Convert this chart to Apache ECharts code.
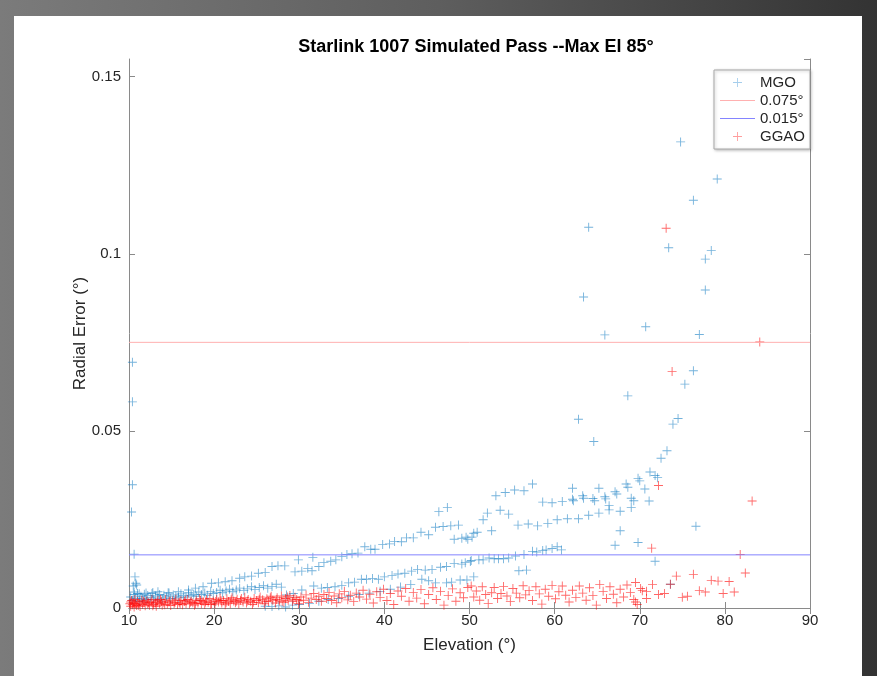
<!DOCTYPE html>
<html>
<head>
<meta charset="utf-8">
<title>Starlink 1007 Simulated Pass</title>
<script src="https://cdn.jsdelivr.net/npm/echarts@6/dist/echarts.min.js"></script>
<style>
    html, body { margin: 0; padding: 0; }
    body {
        width: 877px; height: 676px; overflow: hidden;
        background: linear-gradient(90deg, #7b7b7b 0%, #5e5e5e 50%, #333 100%);
        position: relative;
    }
    #chart {
        position: absolute; left: 14px; top: 16px;
        width: 848px; height: 660px; background: #fff;
    }
</style>
</head>
<body>
<div id="chart"></div>
<script>
// elevation (deg), radial error (deg)
var mgo = [
    // near-vertical column at the start of the pass
    [10.4,0.0694],[10.4,0.0582],[10.4,0.0348],[10.3,0.0271],[10.6,0.0152],
    [10.7,0.0088],[10.8,0.0070],[10.9,0.0065],[10.5,0.0062],
    // upper curve
    [10.6,0.0045],[11.2,0.0040],[12.0,0.0042],[12.8,0.0044],[13.4,0.0046],[14.6,0.0043],
    [15.8,0.0046],[17.0,0.0051],[17.8,0.0056],[18.7,0.0060],[19.7,0.0070],[20.5,0.0071],
    [21.3,0.0074],[22.1,0.0077],[23.0,0.0084],[23.6,0.0088],[24.4,0.0090],[25.2,0.0098],
    [26.0,0.0100],[26.8,0.0117],[27.5,0.0119],[28.3,0.0119],[29.9,0.0136],[31.6,0.0143],
    [29.5,0.0102],[30.3,0.0104],[31.0,0.0112],[31.5,0.0105],[32.3,0.0117],[32.9,0.0128],
    [33.7,0.0132],[34.3,0.0136],[35.0,0.0145],[35.6,0.0151],[36.2,0.0153],[36.9,0.0155],
    [37.7,0.0173],[38.4,0.0166],[38.9,0.0166],[39.8,0.0179],[40.6,0.0181],[41.2,0.0188],
    [42.0,0.0187],[42.6,0.0198],[43.4,0.0198],[44.3,0.0214],[45.2,0.0207],[46.0,0.0228],
    [46.9,0.0230],[47.8,0.0232],[48.7,0.0234],[48.2,0.0194],[49.1,0.0197],[49.8,0.0194],
    [50.3,0.0200],[49.6,0.0200],[50.5,0.0211],[50.9,0.0214],[52.6,0.0218],[51.6,0.0249],
    [52.1,0.0268],[53.6,0.0276],[54.6,0.0265],[46.4,0.0272],[47.4,0.0284],
    [53.1,0.0317],[54.2,0.0326],[55.3,0.0333],[56.4,0.0331],[57.4,0.0350],
    // middle curve
    [28.5,0.0037],[29.3,0.0041],[30.3,0.0051],[31.7,0.0062],[32.6,0.0056],[33.3,0.0058],
    [34.2,0.0060],[35.0,0.0064],[35.8,0.0071],[36.5,0.0073],[37.3,0.0081],[37.9,0.0081],
    [38.6,0.0083],[39.3,0.0081],[40.0,0.0088],[40.9,0.0092],[41.6,0.0096],[42.4,0.0098],
    [43.2,0.0104],[43.9,0.0109],[44.8,0.0107],[45.6,0.0109],[46.6,0.0115],[47.3,0.0117],
    [48.2,0.0126],[49.1,0.0124],[50.1,0.0131],[49.5,0.0128],[50.2,0.0134],[51.1,0.0136],
    [51.6,0.0136],[52.3,0.0141],[52.9,0.0139],[53.4,0.0139],[54.0,0.0139],[54.6,0.0141],
    [55.4,0.0147],[56.4,0.0151],[57.4,0.0160],[57.9,0.0158],[58.6,0.0162],[59.0,0.0164],
    [59.7,0.0168],[60.3,0.0173],[60.8,0.0164],
    // lower curve
    [26.0,0.0005],[26.8,0.0004],[27.6,0.0006],[28.4,0.0003],[29.2,0.0008],[30.0,0.0010],
    [31.2,0.0013],[32.3,0.0019],[33.4,0.0024],[34.6,0.0027],[35.8,0.0033],[37.0,0.0038],
    [38.2,0.0042],[39.5,0.0047],[40.7,0.0053],[41.9,0.0059],[43.1,0.0066],[44.4,0.0081],
    [45.2,0.0077],[46.0,0.0071],[47.3,0.0071],[47.9,0.0073],[48.9,0.0079],[49.7,0.0079],
    [50.5,0.0088],[55.8,0.0105],[56.7,0.0107],
    // dense band early in the pass
    [10.2,0.0031],[10.4,0.0022],[10.6,0.0038],[10.8,0.0027],[11.0,0.0041],[11.2,0.0019],
    [11.4,0.0033],[11.6,0.0026],[11.8,0.0039],[12.0,0.0024],[12.2,0.0035],[12.5,0.0029],
    [12.7,0.0041],[12.9,0.0023],[13.1,0.0034],[13.4,0.0028],[13.6,0.0038],[13.9,0.0025],
    [14.1,0.0036],[14.4,0.0031],[14.7,0.0042],[14.9,0.0027],[15.2,0.0037],[15.5,0.0033],
    [15.8,0.0029],[16.1,0.0040],[16.4,0.0035],[16.7,0.0031],[17.0,0.0043],[17.3,0.0036],
    [17.6,0.0039],[17.9,0.0033],[18.2,0.0045],[18.5,0.0038],[18.9,0.0042],[19.2,0.0036],
    [19.6,0.0047],[19.9,0.0041],[20.3,0.0044],[20.7,0.0050],[21.0,0.0043],[21.4,0.0048],
    [21.8,0.0053],[22.2,0.0046],[22.6,0.0051],[23.0,0.0056],[23.5,0.0049],[23.9,0.0054],
    [24.4,0.0060],[24.8,0.0052],[25.3,0.0058],[25.8,0.0063],[26.3,0.0056],[26.8,0.0061],
    [27.3,0.0067],[27.9,0.0059],
    // later part of the pass
    [55.7,0.0234],[56.9,0.0237],[58.0,0.0232],[59.2,0.0239],[60.3,0.0249],[61.5,0.0252],
    [62.8,0.0252],[64.0,0.0262],[65.2,0.0268],[66.4,0.0289],[66.4,0.0277],[67.7,0.0273],
    [69.0,0.0284],[67.7,0.0218],[67.1,0.0177],[69.8,0.0185],[71.8,0.0132],[76.6,0.0231],
    [73.6,0.0067],
    [58.6,0.0299],[59.7,0.0297],[60.9,0.0301],[62.1,0.0307],[62.1,0.0338],[63.3,0.0317],
    [64.5,0.0309],[65.2,0.0338],[65.9,0.0314],[67.1,0.0328],[68.4,0.0350],[69.0,0.0310],
    [69.8,0.0366],[62.2,0.0303],[63.4,0.0310],[64.7,0.0303],[66.0,0.0308],[67.3,0.0322],
    [68.6,0.0341],[69.3,0.0303],[70.0,0.0359],[70.6,0.0336],[71.1,0.0302],[71.2,0.0384],
    [71.8,0.0374],[72.1,0.0368],[72.5,0.0423],[73.2,0.0444],[73.9,0.0519],[74.5,0.0535],
    [75.3,0.0632],[76.3,0.0670],[62.8,0.0533],[64.6,0.0470],[68.6,0.0599],[70.7,0.0794],
    [65.9,0.0771],[77.0,0.0772],[63.4,0.0878],[77.7,0.0898],[77.7,0.0985],[78.4,0.1009],
    [73.4,0.1017],[64.0,0.1075],[76.3,0.1151],[79.1,0.1211],[74.8,0.1316]
];

var ggao = [
    [10.1,0.0012],[10.2,0.0005],[10.3,0.0021],[10.4,0.0009],[10.5,0.0016],[10.6,0.0003],
    [10.7,0.0024],[10.8,0.0011],[10.9,0.0007],[11.0,0.0018],[11.2,0.0013],[11.3,0.0004],
    [11.5,0.0022],[11.6,0.0010],[11.8,0.0016],[11.9,0.0006],[12.1,0.0020],[12.2,0.0012],
    [12.4,0.0008],[12.6,0.0017],[12.7,0.0024],[12.9,0.0010],[13.1,0.0014],[13.2,0.0005],
    [13.4,0.0021],[13.6,0.0012],[13.8,0.0018],[13.9,0.0008],[14.1,0.0015],[14.3,0.0023],
    [14.5,0.0011],[14.7,0.0017],[14.9,0.0007],[15.1,0.0020],[15.3,0.0013],[15.5,0.0025],
    [15.7,0.0010],[15.9,0.0016],[16.1,0.0021],[16.3,0.0009],[16.5,0.0018],[16.7,0.0013],
    [16.9,0.0024],[17.1,0.0011],[17.3,0.0019],[17.5,0.0015],[17.7,0.0008],[17.9,0.0022],
    [18.1,0.0014],[18.3,0.0026],[18.5,0.0012],[18.7,0.0019],[18.9,0.0010],[19.1,0.0023],
    [19.3,0.0016],[19.5,0.0027],[19.7,0.0013],[19.9,0.0020],
    [10.2,0.0017],[10.6,0.0013],[11.1,0.0008],[11.7,0.0019],[12.3,0.0015],[12.8,0.0006],
    [13.3,0.0017],[13.7,0.0024],[14.2,0.0009],[14.8,0.0020],[15.4,0.0016],[16.0,0.0012],
    [16.6,0.0022],[17.2,0.0016],[17.8,0.0012],[18.4,0.0021],[19.0,0.0017],[19.6,0.0010],
    [20.2,0.0018],[20.8,0.0021],[21.4,0.0015],[22.0,0.0023],[22.6,0.0019],[23.2,0.0027],
    [23.9,0.0020],[24.6,0.0016],[25.3,0.0025],[26.0,0.0019],[26.6,0.0029],[27.3,0.0024],
    [28.0,0.0019],[28.6,0.0031],[29.3,0.0025],[30.0,0.0020],
    [20.1,0.0011],[20.3,0.0024],[20.5,0.0017],[20.7,0.0028],[20.9,0.0014],[21.1,0.0021],
    [21.3,0.0009],[21.5,0.0026],[21.7,0.0018],[21.9,0.0013],[22.1,0.0029],[22.3,0.0020],
    [22.5,0.0015],[22.7,0.0025],[22.9,0.0011],[23.1,0.0022],[23.4,0.0017],[23.6,0.0030],
    [23.8,0.0014],[24.0,0.0024],[24.3,0.0019],[24.5,0.0010],[24.7,0.0027],[25.0,0.0021],
    [25.2,0.0015],[25.4,0.0031],[25.7,0.0023],[25.9,0.0012],[26.2,0.0026],[26.4,0.0018],
    [26.7,0.0033],[26.9,0.0022],[27.2,0.0014],[27.4,0.0029],[27.7,0.0020],[27.9,0.0034],
    [28.2,0.0016],[28.4,0.0027],[28.7,0.0022],[28.9,0.0035],[29.2,0.0018],[29.5,0.0030],
    [29.7,0.0024],[29.9,0.0012],
    [30.2,0.0031],[30.5,0.0022],[30.8,0.0037],[31.1,0.0016],[31.4,0.0028],[31.7,0.0041],
    [32.0,0.0024],[32.3,0.0033],[32.6,0.0019],[32.9,0.0038],[33.2,0.0027],[33.5,0.0044],
    [33.8,0.0021],[34.1,0.0034],[34.4,0.0015],[34.7,0.0040],[35.0,0.0029],[35.3,0.0047],
    [35.7,0.0023],[36.0,0.0036],[36.4,0.0018],[36.7,0.0042],[37.1,0.0031],[37.5,0.0050],
    [37.9,0.0025],[38.3,0.0039],[38.7,0.0014],[39.1,0.0046],[39.5,0.0030],[39.9,0.0053],
    [40.3,0.0021],[40.7,0.0041],[41.1,0.0010],[41.6,0.0048],[42.0,0.0033],[42.5,0.0055],
    [42.9,0.0019],[43.4,0.0044],[43.8,0.0028],[44.3,0.0052],[44.7,0.0012],[45.2,0.0038],
    [45.7,0.0057],[46.1,0.0024],[46.6,0.0047],[47.0,0.0008],[47.5,0.0035],[48.0,0.0054],
    [48.4,0.0019],[48.9,0.0043],[49.3,0.0029],[49.8,0.0058],
    [50.2,0.0062],[50.5,0.0031],[50.8,0.0048],[51.2,0.0022],[51.5,0.0060],[51.9,0.0038],
    [52.2,0.0013],[52.6,0.0043],[52.9,0.0058],[53.3,0.0027],[53.7,0.0041],[54.0,0.0061],
    [54.4,0.0034],[54.8,0.0018],[55.1,0.0055],[55.5,0.0042],[55.9,0.0029],[56.3,0.0063],
    [56.6,0.0037],[57.0,0.0049],[57.4,0.0021],[57.8,0.0060],[58.2,0.0040],[58.5,0.0011],
    [58.9,0.0053],[59.3,0.0033],[59.7,0.0064],[60.1,0.0026],[60.5,0.0046],[60.9,0.0062],
    [61.3,0.0036],[61.7,0.0017],[62.1,0.0050],[62.5,0.0030],[62.9,0.0062],[63.3,0.0042],
    [63.7,0.0022],[64.1,0.0057],[64.5,0.0035],[64.9,0.0008],[65.3,0.0066],[65.7,0.0047],
    [66.1,0.0027],[66.5,0.0060],[66.9,0.0039],[67.3,0.0015],[67.7,0.0053],[68.1,0.0031],
    [68.5,0.0065],[68.9,0.0044],[69.3,0.0024],[69.7,0.0010],
    [69.5,0.0072],[70.1,0.0055],[70.3,0.0049],[70.8,0.0047],[70.8,0.0027],[69.5,0.0017],
    [71.5,0.0066],[72.2,0.0038],[72.9,0.0041],[73.6,0.0067],[74.3,0.0090],[75.0,0.0030],
    [75.6,0.0033],[76.3,0.0095],[77.0,0.0049],[77.7,0.0045],[78.4,0.0078],[79.2,0.0076],
    [79.8,0.0041],[80.5,0.0075],[81.1,0.0045],[82.4,0.0099],[81.8,0.0151],[71.4,0.0169],
    [72.2,0.0346],[83.2,0.0302],[73.8,0.0668],[84.1,0.0751],[73.1,0.1072]
];

var thresholdHigh = 0.075;
var thresholdLow = 0.015;
var xTicks = [10, 20, 30, 40, 50, 60, 70, 80, 90];
var yTicks = [0, 0.05, 0.1, 0.15];

var plus = 'path://M4.5,0H5.5V4.5H10V5.5H5.5V10H4.5V5.5H0V4.5H4.5Z';
var legendLine = 'path://M0,0H35V1H0Z';
var font = '"Liberation Sans", Arial, Helvetica, sans-serif';
var axisGray = '#8a8a8a';
var textCol = '#262626';

var myChart = echarts.init(document.getElementById('chart'));
var xMin = xTicks[0], xMax = xTicks[xTicks.length - 1];

function boxAxis() {
    return { show: true, lineStyle: { color: axisGray, width: 1 } };
}
function boxTick() {
    return { inside: true, length: 6, lineStyle: { color: axisGray } };
}

var option = {
    animation: false,
    backgroundColor: '#fff',
    textStyle: { fontFamily: font },
    title: {
        text: 'Starlink 1007 Simulated Pass --Max El 85°',
        left: 457, top: 17, textAlign: 'center',
        textStyle: { fontSize: 18, fontWeight: 'bold', color: '#000', fontFamily: font }
    },
    grid: { left: 115, right: 52, top: 43, bottom: 68 },
    legend: {
        orient: 'vertical',
        left: 700, top: 54,
        padding: [5, 5, 5, 6],
        itemGap: 3,
        itemWidth: 35, itemHeight: 9,
        backgroundColor: '#fff',
        borderColor: '#a8a8a8', borderWidth: 1,
        shadowColor: 'rgba(0,0,0,0.25)', shadowBlur: 3, shadowOffsetX: 1, shadowOffsetY: 1,
        textStyle: { fontSize: 15, color: textCol, fontFamily: font },
        data: [
            { name: 'MGO', icon: plus, itemStyle: { color: '#5da6dc' } },
            { name: '0.075°', icon: legendLine, itemStyle: { color: '#ffb0b0' } },
            { name: '0.015°', icon: legendLine, itemStyle: { color: '#8484ff' } },
            { name: 'GGAO', icon: plus, itemStyle: { color: '#ff5c5c' } }
        ]
    },
    xAxis: [{
        type: 'value', min: xMin, max: xMax, interval: 10,
        name: 'Elevation (°)', nameLocation: 'middle', nameGap: 29,
        nameTextStyle: { fontSize: 17, color: textCol, fontFamily: font },
        axisLine: boxAxis(), axisTick: boxTick(),
        axisLabel: { fontSize: 15, color: textCol, margin: 5 },
        splitLine: { show: false }
    }, {
        type: 'value', position: 'top', min: xMin, max: xMax, interval: 10,
        axisLine: boxAxis(), axisTick: boxTick(),
        axisLabel: { show: false }, splitLine: { show: false }
    }],
    yAxis: [{
        type: 'value', min: 0, max: 0.155, interval: 0.05,
        name: 'Radial Error (°)', nameLocation: 'middle', nameGap: 40, nameRotate: 90,
        nameMoveOverlap: false,
        nameTextStyle: { fontSize: 17, color: textCol, fontFamily: font },
        axisLine: boxAxis(), axisTick: boxTick(),
        axisLabel: {
            fontSize: 15, color: textCol, margin: 8, showMaxLabel: false,
            formatter: function (v) { return yTicks.indexOf(+v.toFixed(3)) >= 0 ? String(+v.toFixed(3)) : ''; }
        },
        splitLine: { show: false }
    }, {
        type: 'value', position: 'right', min: 0, max: 0.155, interval: 0.05,
        axisLine: boxAxis(), axisTick: boxTick(),
        axisLabel: { show: false }, splitLine: { show: false }
    }],
    series: [{
        name: 'MGO', type: 'scatter', data: mgo,
        symbol: plus, symbolSize: 9,
        itemStyle: { color: '#0072BD', opacity: 0.55 }
    }, {
        name: '0.075°', type: 'line', symbol: 'none',
        data: [[xMin, thresholdHigh], [xMax, thresholdHigh]],
        lineStyle: { color: '#ffb0b0', width: 1 },
        itemStyle: { color: '#ffb0b0' }
    }, {
        name: '0.015°', type: 'line', symbol: 'none',
        data: [[xMin, thresholdLow], [xMax, thresholdLow]],
        lineStyle: { color: '#8484ff', width: 1 },
        itemStyle: { color: '#8484ff' }
    }, {
        name: 'GGAO', type: 'scatter', data: ggao,
        symbol: plus, symbolSize: 9,
        itemStyle: { color: '#ff0000', opacity: 0.6 }
    }]
};
myChart.setOption(option);
</script>
</body>
</html>
